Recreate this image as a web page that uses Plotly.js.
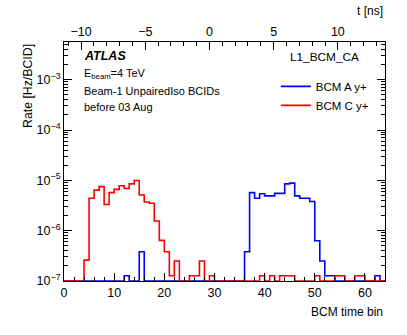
<!DOCTYPE html>
<html>
<head>
<meta charset="utf-8">
<script src="https://cdn.plot.ly/plotly-3.0.1.min.js"></script>
<style>
  html, body { margin: 0; padding: 0; background: #fff; }
  #chart { width: 407px; height: 335px; }
</style>
</head>
<body>
<div id="chart"></div>
<script>
// BCM time bins (64 bins of 25/64 ns), rate per bin in Hz/BCID.
// Empty bins are 0 and get drawn on the axis floor, like ROOT does.
var binEdges = [];
for (var b = 0; b <= 64; b++) binEdges.push(b);

var rateA = [
  0, 0, 0, 0, 0, 0, 0, 0, 0, 0, 0, 0, 1.27e-7, 0, 0, 3.8e-7,
  0, 0, 0, 0, 0, 0, 0, 0, 0, 0, 0, 0, 0, 0, 0, 0,
  0, 0, 0, 0, 3.8e-7, 5.7e-6, 4.4e-6, 5.4e-6, 4.9e-6, 4.9e-6, 5.5e-6, 5.5e-6, 8.5e-6, 8.8e-6, 4.9e-6, 4.4e-6,
  4.4e-6, 3.8e-6, 6.3e-7, 2.5e-7, 1.27e-7, 1.27e-7, 0, 0, 0, 0, 0, 0, 0, 0, 1.27e-7, 0
];

var rateC = [
  0, 0, 0, 0, 2.6e-7, 4.4e-6, 6.4e-6, 7.5e-6, 3.3e-6, 5.7e-6, 6.6e-6, 7.8e-6, 6.9e-6, 8.5e-6, 9.9e-6, 5.1e-6,
  3.7e-6, 3.5e-6, 1.56e-6, 6.4e-7, 3.8e-7, 1.27e-7, 2.5e-7, 0, 0, 1.27e-7, 1.27e-7, 2.5e-7, 0, 1.27e-7, 0, 0,
  0, 0, 0, 0, 0, 0, 0, 1.27e-7, 0, 1.27e-7, 0, 1.27e-7, 1.27e-7, 1.27e-7, 0, 0,
  0, 0, 1.27e-7, 0, 0, 0, 1.27e-7, 1.27e-7, 0, 0, 1.27e-7, 1.27e-7, 0, 0, 0, 0
];

var yTickVals = [1e-7, 1e-6, 1e-5, 1e-4, 1e-3];
var yTickText = ['10<sup>\u22127</sup>', '10<sup>\u22126</sup>', '10<sup>\u22125</sup>',
                 '10<sup>\u22124</sup>', '10<sup>\u22123</sup>'];

var yFloor = 1e-7;
var yTop = 5.6e-3;
var nsPerBin = 25 / 64;
var zeroBin = 29;   // bin that corresponds to t = 0 ns

var FONT = 'Liberation Sans, Arial, Helvetica, sans-serif';

// step outline: value of each bin from its left edge, last value repeated at the right edge
function stepY(vals) {
  var out = vals.map(function(v) { return v > 0 ? v : yFloor; });
  out.push(out[out.length - 1]);
  return out;
}

var traceA = {
  x: binEdges, y: stepY(rateA),
  type: 'scatter', mode: 'lines',
  line: { shape: 'hv', color: '#0000ff', width: 1.6 },
  name: 'BCM A y+'
};
var traceC = {
  x: binEdges, y: stepY(rateC),
  type: 'scatter', mode: 'lines',
  line: { shape: 'hv', color: '#ff0000', width: 1.6 },
  name: 'BCM C y+'
};
// empty trace so the top ns axis is drawn
var traceT = { x: [], y: [], xaxis: 'x2', yaxis: 'y', type: 'scatter', mode: 'lines', showlegend: false };

var layout = {
  width: 407, height: 335,
  margin: { l: 64, r: 22, t: 42, b: 54 },
  paper_bgcolor: '#fff', plot_bgcolor: '#fff',
  font: { family: FONT, size: 12, color: '#000' },
  showlegend: true,
  legend: {
    x: 0.66, y: 0.875, xanchor: 'left', yanchor: 'top',
    bgcolor: 'rgba(0,0,0,0)', font: { size: 11.5 },
    tracegroupgap: 0, itemwidth: 30
  },
  xaxis: {
    range: [0, 64], showgrid: false, zeroline: false,
    showline: true, linecolor: '#000', linewidth: 1,
    ticks: 'inside', ticklen: 8, tickcolor: '#000', tickwidth: 1,
    dtick: 10, tick0: 0,
    minor: { ticks: 'inside', ticklen: 4, dtick: 2, tickcolor: '#000', showgrid: false },
    tickfont: { size: 12.5 }
  },
  xaxis2: {
    overlaying: 'x', side: 'top', anchor: 'y',
    range: [(0 - zeroBin) * nsPerBin, (64 - zeroBin) * nsPerBin],
    showgrid: false, zeroline: false,
    showline: true, linecolor: '#000', linewidth: 1,
    ticks: 'inside', ticklen: 8, tickcolor: '#000', tickwidth: 1,
    dtick: 5, tick0: 0,
    minor: { ticks: 'inside', ticklen: 4, dtick: 1, tickcolor: '#000', showgrid: false },
    tickfont: { size: 12.5 }
  },
  yaxis: {
    type: 'log', range: [Math.log10(yFloor), Math.log10(yTop)],
    showgrid: false, zeroline: false,
    showline: true, linecolor: '#000', linewidth: 1, mirror: 'ticks',
    ticks: 'inside', ticklen: 8, tickcolor: '#000', tickwidth: 1,
    tickmode: 'array', tickvals: yTickVals, ticktext: yTickText,
    minor: { ticks: 'inside', ticklen: 4, dtick: 'D1', tickcolor: '#000', showgrid: false },
    tickfont: { size: 12.5 }
  },
  annotations: [
    { text: 't [ns]', xref: 'paper', yref: 'paper', x: 1, y: 1, xanchor: 'right', yanchor: 'bottom',
      yshift: 22, showarrow: false, font: { size: 12 } },
    { text: 'BCM time bin', xref: 'paper', yref: 'paper', x: 1, y: 0, xanchor: 'right', yanchor: 'top',
      yshift: -22, showarrow: false, font: { size: 12 } },
    { text: 'Rate [Hz/BCID]', xref: 'paper', yref: 'paper', x: 0, y: 1, xanchor: 'center', yanchor: 'top',
      xshift: -36, textangle: -90, showarrow: false, font: { size: 12.3 } },
    { text: '<b><i>ATLAS</i></b>', xref: 'paper', yref: 'paper', x: 0.055, y: 0.941, xanchor: 'left', yanchor: 'middle',
      showarrow: false, font: { size: 12.5 } },
    { text: 'E<sub>beam</sub>=4 TeV', xref: 'paper', yref: 'paper', x: 0.055, y: 0.866, xanchor: 'left', yanchor: 'middle',
      showarrow: false, font: { size: 11 } },
    { text: 'Beam-1 UnpairedIso BCIDs', xref: 'paper', yref: 'paper', x: 0.055, y: 0.795, xanchor: 'left', yanchor: 'middle',
      showarrow: false, font: { size: 11 } },
    { text: 'before 03 Aug', xref: 'paper', yref: 'paper', x: 0.055, y: 0.728, xanchor: 'left', yanchor: 'middle',
      showarrow: false, font: { size: 11 } },
    { text: 'L1_BCM_CA', xref: 'paper', yref: 'paper', x: 0.925, y: 0.937, xanchor: 'right', yanchor: 'middle',
      showarrow: false, font: { size: 11.8 } }
  ]
};

Plotly.newPlot('chart', [traceA, traceC, traceT], layout, { displayModeBar: false, staticPlot: true });
</script>
</body>
</html>
